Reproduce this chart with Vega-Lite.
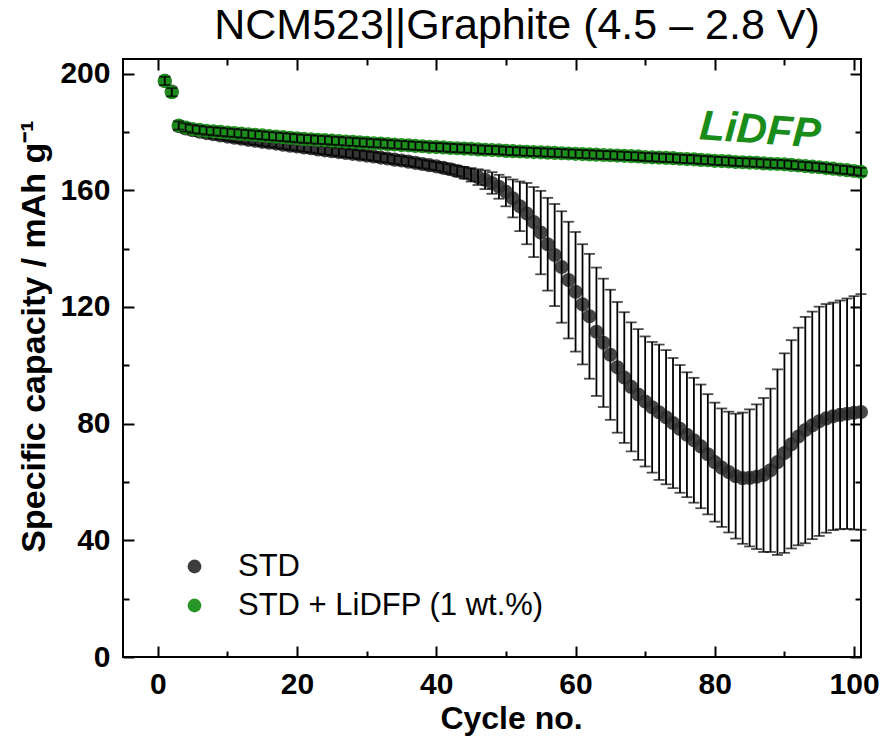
{
  "$schema": "https://vega.github.io/schema/vega-lite/v6.json",
  "width": 738,
  "height": 598,
  "autosize": {"type": "none"},
  "padding": {"left": 123, "top": 59, "right": 23, "bottom": 80},
  "background": "white",
  "config": {
    "view": {"stroke": "black", "strokeWidth": 2},
    "font": "Liberation Sans",
    "axis": {
      "domain": false,
      "grid": false,
      "tickColor": "black",
      "tickWidth": 2,
      "labelFont": "Liberation Sans",
      "labelFontSize": 30,
      "labelFontWeight": "bold",
      "labelColor": "black",
      "labelOverlap": false,
      "labelFlush": false,
      "titleFont": "Liberation Sans",
      "titleFontSize": 34,
      "titleFontWeight": "bold",
      "titleColor": "black"
    }
  },
  "title": {
    "text": "NCM523||Graphite (4.5 – 2.8 V)",
    "font": "Liberation Sans",
    "fontSize": 43,
    "fontWeight": "normal",
    "color": "black",
    "anchor": "middle",
    "dx": 25,
    "offset": 10
  },
  "datasets": {
    "std": [
      {"c":1,"v":197.5,"e":1.5},{"c":2,"v":193.8,"e":1.5},{"c":3,"v":182.0,"e":1.5},{"c":4,"v":181.2,"e":1.5},{"c":5,"v":180.6,"e":1.5},
      {"c":6,"v":180.1,"e":1.5},{"c":7,"v":179.6,"e":1.5},{"c":8,"v":179.2,"e":1.5},{"c":9,"v":178.8,"e":1.5},{"c":10,"v":178.4,"e":1.5},
      {"c":11,"v":178.0,"e":1.5},{"c":12,"v":177.7,"e":1.5},{"c":13,"v":177.3,"e":1.5},{"c":14,"v":177.0,"e":1.5},{"c":15,"v":176.6,"e":1.5},
      {"c":16,"v":176.3,"e":1.5},{"c":17,"v":176.0,"e":1.5},{"c":18,"v":175.6,"e":1.5},{"c":19,"v":175.3,"e":1.5},{"c":20,"v":175.0,"e":1.5},
      {"c":21,"v":174.7,"e":1.5},{"c":22,"v":174.4,"e":1.5},{"c":23,"v":174.0,"e":1.5},{"c":24,"v":173.7,"e":1.5},{"c":25,"v":173.4,"e":1.5},
      {"c":26,"v":173.1,"e":1.5},{"c":27,"v":172.8,"e":1.5},{"c":28,"v":172.5,"e":1.5},{"c":29,"v":172.2,"e":1.5},{"c":30,"v":171.9,"e":1.5},
      {"c":31,"v":171.6,"e":1.5},{"c":32,"v":171.2,"e":1.5},{"c":33,"v":170.9,"e":1.5},{"c":34,"v":170.5,"e":1.5},{"c":35,"v":170.2,"e":1.5},
      {"c":36,"v":169.8,"e":1.5},{"c":37,"v":169.4,"e":1.5},{"c":38,"v":169.0,"e":1.5},{"c":39,"v":168.6,"e":1.5},{"c":40,"v":168.2,"e":1.5},
      {"c":41,"v":167.7,"e":1.6},{"c":42,"v":167.2,"e":1.7},{"c":43,"v":166.6,"e":1.8},{"c":44,"v":166.0,"e":2.0},{"c":45,"v":165.3,"e":2.3},
      {"c":46,"v":164.5,"e":2.7},{"c":47,"v":163.6,"e":3.2},{"c":48,"v":162.5,"e":3.7},{"c":49,"v":161.2,"e":4.1},{"c":50,"v":159.5,"e":5.0},
      {"c":51,"v":157.2,"e":6.5},{"c":52,"v":154.5,"e":8.5},{"c":53,"v":152.0,"e":10.5},{"c":54,"v":149.1,"e":12.0},{"c":55,"v":145.5,"e":14.3},
      {"c":56,"v":141.5,"e":15.9},{"c":57,"v":137.8,"e":17.5},{"c":58,"v":133.7,"e":19.1},{"c":59,"v":129.2,"e":20.0},{"c":60,"v":125.2,"e":20.5},
      {"c":61,"v":120.9,"e":20.6},{"c":62,"v":116.8,"e":21.4},{"c":63,"v":111.5,"e":22.0},{"c":64,"v":107.7,"e":22.0},{"c":65,"v":103.6,"e":22.3},
      {"c":66,"v":99.3,"e":22.4},{"c":67,"v":95.8,"e":22.4},{"c":68,"v":92.6,"e":22.1},{"c":69,"v":90.0,"e":22.4},{"c":70,"v":87.6,"e":22.3},
      {"c":71,"v":85.6,"e":22.4},{"c":72,"v":83.9,"e":23.2},{"c":73,"v":82.2,"e":23.0},{"c":74,"v":80.2,"e":22.3},{"c":75,"v":78.2,"e":21.9},
      {"c":76,"v":76.2,"e":21.4},{"c":77,"v":74.3,"e":21.4},{"c":78,"v":72.2,"e":21.2},{"c":79,"v":69.5,"e":20.6},{"c":80,"v":66.8,"e":20.4},
      {"c":81,"v":64.9,"e":20.3},{"c":82,"v":63.4,"e":20.7},{"c":83,"v":62.0,"e":21.4},{"c":84,"v":61.3,"e":22.5},{"c":85,"v":61.4,"e":23.5},
      {"c":86,"v":61.8,"e":24.8},{"c":87,"v":62.4,"e":26.4},{"c":88,"v":64.0,"e":28.0},{"c":89,"v":66.8,"e":31.8},{"c":90,"v":69.9,"e":34.2},
      {"c":91,"v":72.9,"e":35.7},{"c":92,"v":75.6,"e":37.3},{"c":93,"v":77.8,"e":38.8},{"c":94,"v":79.4,"e":39.0},{"c":95,"v":80.8,"e":39.3},
      {"c":96,"v":81.8,"e":39.2},{"c":97,"v":82.5,"e":39.0},{"c":98,"v":83.0,"e":39.2},{"c":99,"v":83.4,"e":39.5},{"c":100,"v":83.7,"e":40.0},
      {"c":101,"v":84.0,"e":40.4}
    ],
    "lid": [
      {"c":1,"v":197.5,"e":1.4},{"c":2,"v":193.6,"e":1.4},{"c":3,"v":182.2,"e":1.4},{"c":4,"v":181.5,"e":1.4},{"c":5,"v":181.0,"e":1.4},
      {"c":6,"v":180.7,"e":1.4},{"c":7,"v":180.4,"e":1.4},{"c":8,"v":180.2,"e":1.4},{"c":9,"v":180.0,"e":1.4},{"c":10,"v":179.8,"e":1.4},
      {"c":11,"v":179.6,"e":1.4},{"c":12,"v":179.4,"e":1.4},{"c":13,"v":179.2,"e":1.4},{"c":14,"v":179.0,"e":1.4},{"c":15,"v":178.8,"e":1.4},
      {"c":16,"v":178.6,"e":1.4},{"c":17,"v":178.4,"e":1.4},{"c":18,"v":178.2,"e":1.4},{"c":19,"v":178.0,"e":1.4},{"c":20,"v":177.8,"e":1.4},
      {"c":21,"v":177.6,"e":1.4},{"c":22,"v":177.5,"e":1.4},{"c":23,"v":177.3,"e":1.4},{"c":24,"v":177.2,"e":1.4},{"c":25,"v":177.0,"e":1.4},
      {"c":26,"v":176.9,"e":1.4},{"c":27,"v":176.7,"e":1.4},{"c":28,"v":176.6,"e":1.4},{"c":29,"v":176.4,"e":1.4},{"c":30,"v":176.3,"e":1.4},
      {"c":31,"v":176.1,"e":1.4},{"c":32,"v":176.0,"e":1.4},{"c":33,"v":175.8,"e":1.4},{"c":34,"v":175.7,"e":1.4},{"c":35,"v":175.5,"e":1.4},
      {"c":36,"v":175.4,"e":1.4},{"c":37,"v":175.2,"e":1.4},{"c":38,"v":175.1,"e":1.4},{"c":39,"v":174.9,"e":1.4},{"c":40,"v":174.8,"e":1.4},
      {"c":41,"v":174.7,"e":1.4},{"c":42,"v":174.5,"e":1.4},{"c":43,"v":174.4,"e":1.4},{"c":44,"v":174.3,"e":1.4},{"c":45,"v":174.2,"e":1.4},
      {"c":46,"v":174.0,"e":1.4},{"c":47,"v":173.9,"e":1.4},{"c":48,"v":173.8,"e":1.4},{"c":49,"v":173.7,"e":1.4},{"c":50,"v":173.5,"e":1.4},
      {"c":51,"v":173.4,"e":1.4},{"c":52,"v":173.3,"e":1.4},{"c":53,"v":173.2,"e":1.4},{"c":54,"v":173.1,"e":1.4},{"c":55,"v":173.0,"e":1.4},
      {"c":56,"v":172.9,"e":1.4},{"c":57,"v":172.8,"e":1.4},{"c":58,"v":172.7,"e":1.4},{"c":59,"v":172.6,"e":1.4},{"c":60,"v":172.5,"e":1.4},
      {"c":61,"v":172.4,"e":1.4},{"c":62,"v":172.3,"e":1.4},{"c":63,"v":172.2,"e":1.4},{"c":64,"v":172.1,"e":1.4},{"c":65,"v":172.0,"e":1.4},
      {"c":66,"v":171.9,"e":1.4},{"c":67,"v":171.8,"e":1.4},{"c":68,"v":171.7,"e":1.4},{"c":69,"v":171.6,"e":1.4},{"c":70,"v":171.4,"e":1.4},
      {"c":71,"v":171.3,"e":1.4},{"c":72,"v":171.2,"e":1.4},{"c":73,"v":171.1,"e":1.4},{"c":74,"v":171.0,"e":1.4},{"c":75,"v":170.8,"e":1.4},
      {"c":76,"v":170.7,"e":1.4},{"c":77,"v":170.6,"e":1.4},{"c":78,"v":170.4,"e":1.4},{"c":79,"v":170.3,"e":1.4},{"c":80,"v":170.1,"e":1.4},
      {"c":81,"v":170.0,"e":1.4},{"c":82,"v":169.9,"e":1.4},{"c":83,"v":169.7,"e":1.4},{"c":84,"v":169.6,"e":1.4},{"c":85,"v":169.5,"e":1.4},
      {"c":86,"v":169.4,"e":1.4},{"c":87,"v":169.2,"e":1.4},{"c":88,"v":169.1,"e":1.4},{"c":89,"v":169.0,"e":1.4},{"c":90,"v":168.9,"e":1.4},
      {"c":91,"v":168.7,"e":1.4},{"c":92,"v":168.5,"e":1.4},{"c":93,"v":168.3,"e":1.4},{"c":94,"v":168.1,"e":1.4},{"c":95,"v":167.9,"e":1.4},
      {"c":96,"v":167.6,"e":1.4},{"c":97,"v":167.4,"e":1.4},{"c":98,"v":167.1,"e":1.4},{"c":99,"v":166.9,"e":1.4},{"c":100,"v":166.6,"e":1.4},
      {"c":101,"v":166.3,"e":1.4}
    ]
  },
  "layer": [
    {
      "encoding": {
        "x": {
          "field": "c", "type": "quantitative",
          "scale": {"domain": [-5, 101], "nice": false, "zero": false},
          "axis": {
            "orient": "bottom",
            "title": "Cycle no.",
            "titleFontSize": 32,
            "titleBaseline": "alphabetic",
            "titleX": 388,
            "titleY": 71,
            "values": [0,10,20,30,40,50,60,70,80,90,100],
            "labelExpr": "datum.value % 20 === 0 ? datum.label : ''",
            "tickSize": {"condition": {"test": "datum.value % 20 === 0", "value": -11}, "value": -6},
            "labelPadding": 23
          }
        },
        "y": {
          "field": "v", "type": "quantitative",
          "scale": {"domain": [0, 205], "nice": false, "zero": false},
          "axis": {
            "orient": "left",
            "title": "Specific capacity / mAh g⁻¹",
            "values": [0,20,40,60,80,100,120,140,160,180,200],
            "labelExpr": "datum.value % 40 === 0 ? datum.label : ''",
            "tickSize": {"condition": {"test": "datum.value % 40 === 0", "value": -11}, "value": -6},
            "labelPadding": 24,
            "titlePadding": 8,
            "titleY": 277
          }
        }
      },
      "layer": [
        {
          "data": {"name": "std"},
          "mark": {"type": "point", "filled": true, "size": 200, "opacity": 0.9, "strokeWidth": 0},
          "encoding": {
            "color": {
              "datum": "STD",
              "scale": {"domain": ["STD", "STD + LiDFP (1 wt.%)"], "range": ["#333333", "#1b901b"]},
              "legend": {
                "orient": "none",
                "legendX": 56,
                "legendY": 492,
                "title": null,
                "symbolType": "circle",
                "symbolSize": 190,
                "symbolOpacity": 1,
                "symbolStrokeWidth": 0,
                "labelFont": "Liberation Sans",
                "labelFontSize": 31,
                "labelColor": "black",
                "labelLimit": 0,
                "labelOffset": 28,
                "rowPadding": 7,
                "padding": 0
              }
            }
          }
        },
        {
          "data": {"name": "std"},
          "mark": {"type": "errorbar", "ticks": {"size": 11, "color": "black", "thickness": 1.8}, "rule": {"color": "black", "strokeWidth": 1.8}},
          "encoding": {"yError": {"field": "e"}}
        },
        {
          "data": {"name": "lid"},
          "mark": {"type": "point", "filled": true, "size": 200, "opacity": 0.95, "strokeWidth": 0},
          "encoding": {"color": {"datum": "STD + LiDFP (1 wt.%)"}}
        },
        {
          "data": {"name": "lid"},
          "mark": {"type": "errorbar", "ticks": {"size": 11, "color": "black", "thickness": 1.8}, "rule": {"color": "black", "strokeWidth": 1.8}},
          "encoding": {"yError": {"field": "e"}}
        },
        {
          "data": {"values": [{"c": 86.5, "v": 180.5, "t": "LiDFP"}]},
          "mark": {"type": "text", "font": "Liberation Sans", "fontSize": 42, "fontWeight": "bold", "fontStyle": "italic", "color": "#1a8c1a", "angle": 4, "align": "center", "baseline": "middle"},
          "encoding": {"text": {"field": "t"}}
        }
      ]
    },
    {
      "data": {"name": "std"},
      "mark": {"type": "point", "opacity": 0},
      "encoding": {
        "x": {
          "field": "c", "type": "quantitative",
          "axis": {
            "orient": "top",
            "title": null,
            "labels": false,
            "values": [0,10,20,30,40,50,60,70,80,90,100],
            "tickSize": {"condition": {"test": "datum.value % 20 === 0", "value": -11}, "value": -6}
          }
        },
        "y": {
          "field": "v", "type": "quantitative",
          "axis": {
            "orient": "right",
            "title": null,
            "labels": false,
            "values": [0,20,40,60,80,100,120,140,160,180,200],
            "tickSize": {"condition": {"test": "datum.value % 40 === 0", "value": -11}, "value": -6}
          }
        }
      }
    }
  ],
  "resolve": {"axis": {"x": "independent", "y": "independent"}}
}
